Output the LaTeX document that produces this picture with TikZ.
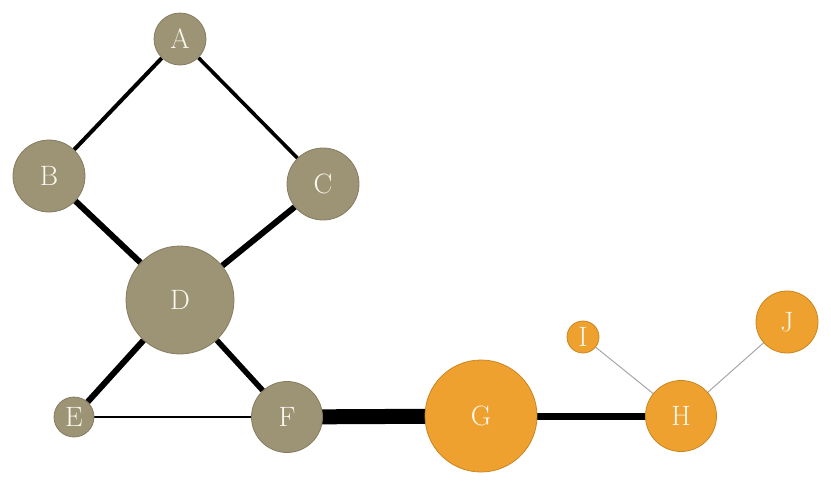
\documentclass[tikz,border=0pt]{standalone}
\usepackage{fontspec}
\usetikzlibrary{backgrounds}
\definecolor{olive}{HTML}{9D9476}
\definecolor{olivedark}{HTML}{857C60}
\definecolor{orng}{HTML}{EFA12F}
\definecolor{orngdark}{HTML}{C98520}
\definecolor{txt}{HTML}{FBF8EE}
\begin{document}
\begin{tikzpicture}[x=1pt,y=-1pt,
  vtx/.style={circle,inner sep=0pt,draw,line width=0.8pt,text=txt,font=\fontsize{28}{28}\selectfont},
  ov/.style={vtx,fill=olive,draw=olivedark},
  orv/.style={vtx,fill=orng,draw=orngdark},
  edge/.style={draw=black},
  thinedge/.style={draw=gray!70,line width=1pt}]
\useasboundingbox (0,0) rectangle (831,485);
\node[ov,minimum size=52pt] (A) at (180,39) {A};
\node[ov,minimum size=72pt] (B) at (49,176) {B};
\node[ov,minimum size=72pt] (C) at (323,184) {C};
\node[ov,minimum size=108pt] (D) at (180,300) {D};
\node[ov,minimum size=40pt] (E) at (74,417) {E};
\node[ov,minimum size=71pt] (F) at (287,417) {F};
\node[orv,minimum size=112pt] (G) at (481,416) {G};
\node[orv,minimum size=71pt] (H) at (681,416) {H};
\node[orv,minimum size=32pt] (I) at (583,337) {I};
\node[orv,minimum size=62pt] (J) at (787,322) {J};
\begin{scope}[on background layer]
\draw[edge,line width=4pt] (A) -- (B);
\draw[edge,line width=3.6pt] (A) -- (C);
\draw[edge,line width=6pt] (B) -- (D);
\draw[edge,line width=6pt] (C) -- (D);
\draw[edge,line width=6pt] (D) -- (E);
\draw[edge,line width=5.5pt] (D) -- (F);
\draw[edge,line width=1.8pt] (E) -- (F);
\draw[edge,line width=15pt] (F.center) -- (G.center);
\draw[edge,line width=7pt] (G.center) -- (H.center);
\draw[thinedge] (H) -- (I);
\draw[thinedge] (H) -- (J);
\end{scope}
\end{tikzpicture}
\end{document}
